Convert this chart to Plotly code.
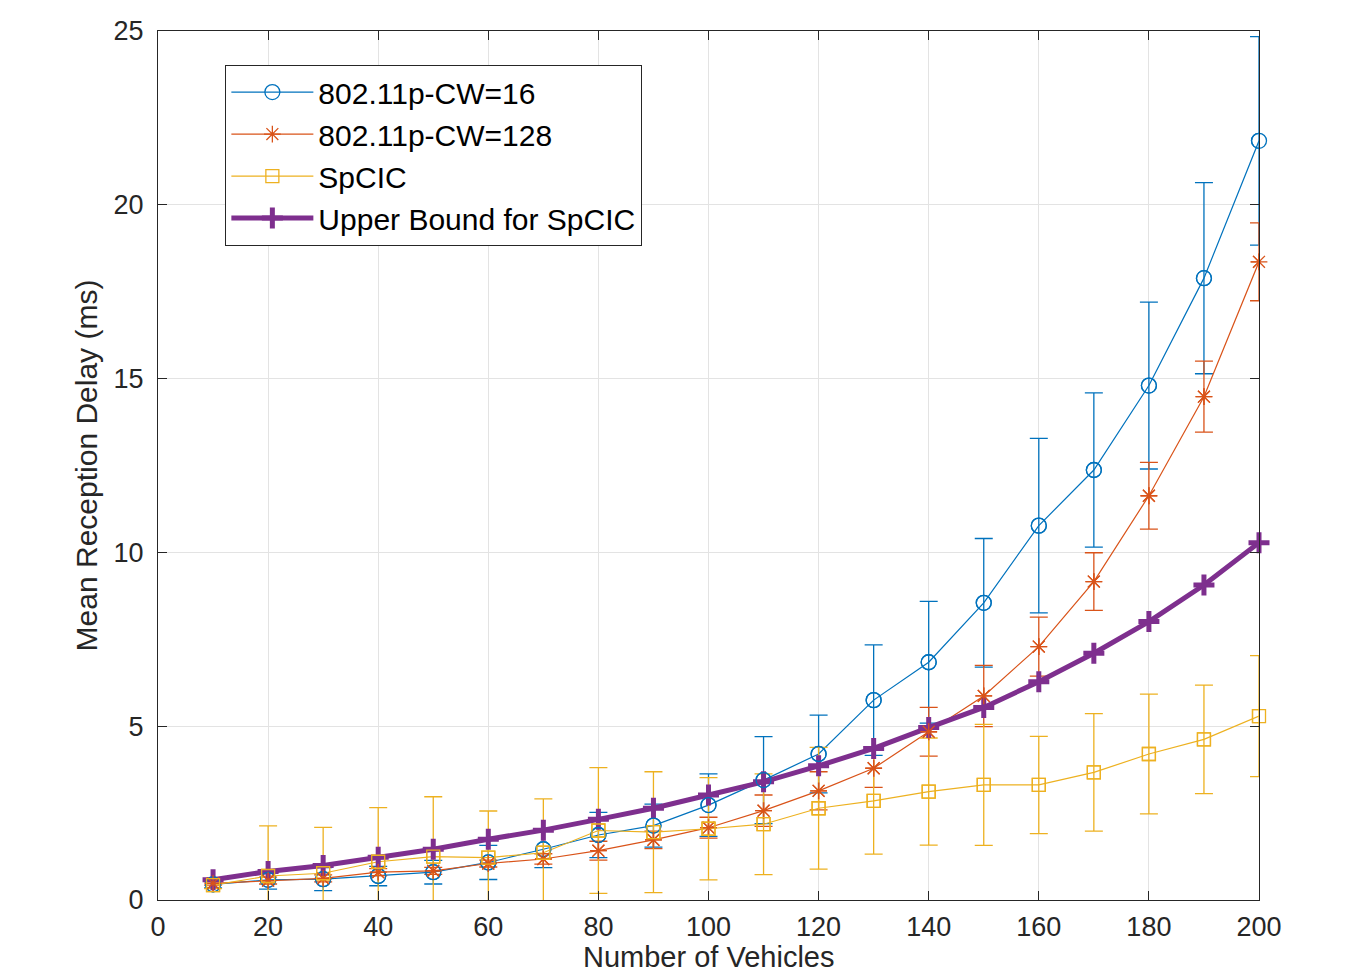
import plotly.graph_objects as go

vehicles = [10, 20, 30, 40, 50, 60, 70, 80, 90, 100, 110, 120, 130, 140, 150, 160, 170, 180, 190, 200]

cw16 = [0.45, 0.58, 0.60, 0.69, 0.80, 1.08, 1.46, 1.87, 2.14, 2.73, 3.45, 4.20, 5.75, 6.84, 8.55, 10.77, 12.37, 14.80, 17.89, 21.84]
cw16_err = [0.10, 0.27, 0.33, 0.28, 0.34, 0.49, 0.53, 0.65, 0.62, 0.90, 1.25, 1.12, 1.59, 1.75, 1.85, 2.51, 2.22, 2.40, 2.75, 3.00]

cw128 = [0.48, 0.56, 0.62, 0.80, 0.84, 1.05, 1.18, 1.42, 1.73, 2.08, 2.57, 3.14, 3.79, 4.84, 5.87, 7.29, 9.16, 11.63, 14.48, 18.36]
cw128_err = [0.05, 0.10, 0.10, 0.10, 0.10, 0.10, 0.15, 0.27, 0.25, 0.30, 0.45, 0.55, 0.55, 0.70, 0.88, 0.85, 0.83, 0.96, 1.02, 1.12]

spcic = [0.43, 0.69, 0.77, 1.10, 1.25, 1.22, 1.36, 2.00, 1.95, 2.05, 2.18, 2.64, 2.85, 3.12, 3.31, 3.31, 3.67, 4.20, 4.62, 5.29]
spcic_err = [0.10, 1.44, 1.32, 1.56, 1.72, 1.34, 1.55, 1.81, 1.74, 1.47, 1.45, 1.75, 1.53, 1.54, 1.74, 1.40, 1.69, 1.72, 1.56, 1.74]

upper = [0.58, 0.82, 0.99, 1.23, 1.46, 1.75, 2.01, 2.32, 2.64, 3.02, 3.40, 3.86, 4.36, 4.96, 5.54, 6.28, 7.10, 8.01, 9.06, 10.28]

x_ticks = [0, 20, 40, 60, 80, 100, 120, 140, 160, 180, 200]
y_ticks = [0, 5, 10, 15, 20, 25]

x_title = "Number of Vehicles"
y_title = "Mean Reception Delay (ms)"

FONT = "Liberation Sans, Arial, Helvetica, sans-serif"
AX = "#262626"

series = [
    ("802.11p-CW=16", cw16, cw16_err, "#0072BD", "circle-open", 15, 1.2),
    ("802.11p-CW=128", cw128, cw128_err, "#D95319", "asterisk-open", 14, 1.2),
    ("SpCIC", spcic, spcic_err, "#EDB120", "square-open", 13, 1.2),
]

fig = go.Figure()
for name, ys, err, col, sym, size, lw in series:
    fig.add_trace(go.Scatter(
        x=vehicles, y=ys, name=name, mode="lines+markers",
        line=dict(color=col, width=lw),
        marker=dict(symbol=sym, size=size, color=col, line=dict(color=col, width=1.3)),
        error_y=dict(type="data", array=err, arrayminus=err, symmetric=False,
                     color=col, thickness=1.3, width=9),
        cliponaxis=True,
    ))

fig.add_trace(go.Scatter(
    x=vehicles, y=upper, name="Upper Bound for SpCIC", mode="lines+markers",
    line=dict(color="#7E2F8E", width=5),
    marker=dict(symbol="cross-thin-open", size=15, color="#7E2F8E",
                line=dict(color="#7E2F8E", width=5)),
    cliponaxis=False,
))

# unclipped marker overlays so edge markers are drawn fully
for name, ys, err, col, sym, size, lw in series:
    fig.add_trace(go.Scatter(
        x=vehicles, y=ys, mode="markers", showlegend=False, hoverinfo="skip",
        marker=dict(symbol=sym, size=size, color=col, line=dict(color=col, width=1.3)),
        cliponaxis=False,
    ))

axis_common = dict(
    showline=True, linecolor=AX, linewidth=1.2, mirror="ticks",
    ticks="inside", ticklen=9, tickwidth=1.2, tickcolor=AX,
    showgrid=True, gridcolor="#e3e3e3", gridwidth=1,
    zeroline=False, automargin=False,
    tickfont=dict(family=FONT, size=27, color=AX),
)

fig.update_layout(
    width=1366, height=975,
    margin=dict(l=158, r=107, t=31, b=75, autoexpand=False),
    paper_bgcolor="white", plot_bgcolor="white",
    font=dict(family=FONT, color=AX),
    xaxis=dict(range=[0, 200], tickvals=x_ticks, ticktext=[str(v) for v in x_ticks],
               ticklabelstandoff=2,
               **axis_common),
    yaxis=dict(range=[0, 25], tickvals=y_ticks, ticktext=[str(v) for v in y_ticks],
               title=dict(text=y_title, font=dict(family=FONT, size=30, color=AX), standoff=6),
               ticklabelstandoff=8,
               **axis_common),
    legend=dict(
        x=0.061, y=0.961, xanchor="left", yanchor="top",
        bgcolor="white", bordercolor=AX, borderwidth=1.2,
        font=dict(family=FONT, size=30, color="black"),
        itemwidth=82, tracegroupgap=0,
    ),
    showlegend=True,
    annotations=[dict(
        text=x_title, xref="paper", yref="paper", x=0.5, y=-0.0852,
        xanchor="center", yanchor="bottom", showarrow=False, borderpad=0,
        font=dict(family=FONT, size=29, color=AX),
    )],
)

fig.write_html("out.html")
